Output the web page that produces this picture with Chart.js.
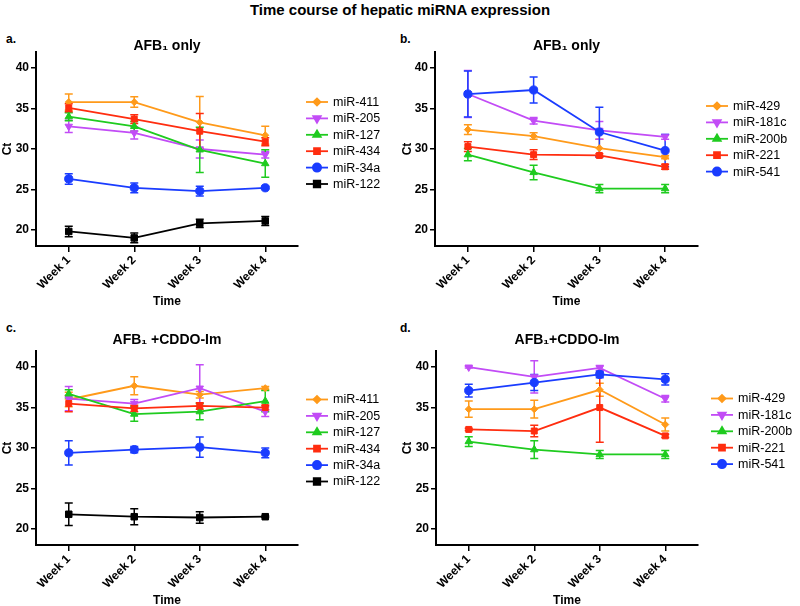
<!DOCTYPE html>
<html>
<head>
<meta charset="utf-8">
<script src="https://cdn.jsdelivr.net/npm/chart.js@4.4.0/dist/chart.umd.min.js"></script>
<style>
  body { margin: 0; width: 800px; height: 606px; overflow: hidden; background: #fff; position: relative;
         font-family: "Liberation Sans", Arial, sans-serif; color: #000; }
  .panel { position: absolute; width: 400px; height: 285px; }
  .lbl { position: absolute; font-weight: bold; font-size: 12px; }
  #mainTitle { position: absolute; left: 0; top: 1px; width: 800px; text-align: center; font-weight: bold; font-size: 15px; }
</style>
</head>
<body>
<div id="mainTitle">Time course of hepatic miRNA expression</div>
<div class="lbl" style="left:6px;top:32px">a.</div>
<div class="lbl" style="left:400px;top:32px">b.</div>
<div class="lbl" style="left:6px;top:321px">c.</div>
<div class="lbl" style="left:400px;top:321px">d.</div>

<div class="panel" style="left:0;top:28px"><canvas id="chartA" width="400" height="285"></canvas></div>
<div class="panel" style="left:400px;top:28px"><canvas id="chartB" width="400" height="285"></canvas></div>
<div class="panel" style="left:0;top:327px"><canvas id="chartC" width="400" height="285"></canvas></div>
<div class="panel" style="left:400px;top:327px"><canvas id="chartD" width="400" height="285"></canvas></div>

<script>
// --- données (Ct moyen et erreur par semaine) ---
const weeks = ['Week 1', 'Week 2', 'Week 3', 'Week 4'];
const yTicks = [20, 25, 30, 35, 40];

// a. AFB1 seul
const a411 = [35.8, 35.8, 33.3, 31.7];  const a411Err = [1.0, 0.65, 3.2, 1.1];
const a205 = [32.8, 32.0, 30.0, 29.3];  const a205Err = [0.75, 0.75, 1.1, 0.4];
const a127 = [34.0, 32.8, 29.9, 28.2];  const a127Err = [0.5, 0.6, 2.8, 1.7];
const a434 = [35.1, 33.7, 32.2, 30.9];  const a434Err = [0.5, 0.55, 2.2, 0.5];
const a34a = [26.3, 25.2, 24.8, 25.2];  const a34aErr = [0.65, 0.6, 0.6, 0.15];
const a122 = [19.8, 19.0, 20.8, 21.1];  const a122Err = [0.65, 0.6, 0.5, 0.55];

// b. AFB1 seul
const b429  = [32.4, 31.6, 30.1, 29.0]; const b429Err  = [0.6, 0.4, 1.1, 0.2];
const b181c = [36.8, 33.5, 32.3, 31.5]; const b181cErr = [2.9, 0.4, 1.1, 0.3];
const b200b = [29.3, 27.1, 25.1, 25.1]; const b200bErr = [0.75, 0.9, 0.5, 0.5];
const b221  = [30.3, 29.3, 29.2, 27.8]; const b221Err  = [0.6, 0.6, 0.2, 0.3];
const b541  = [36.8, 37.3, 32.1, 29.8]; const b541Err  = [2.85, 1.6, 3.05, 2.0];

// c. AFB1 + CDDO-Im
const c411 = [36.0, 37.7, 36.6, 37.4];  const c411Err = [0.9, 1.1, 0.4, 0.2];
const c205 = [36.1, 35.5, 37.4, 34.5];  const c205Err = [1.5, 0.5, 2.9, 0.6];
const c127 = [36.7, 34.2, 34.5, 35.8];  const c127Err = [0.5, 0.9, 1.0, 1.3];
const c434 = [35.5, 34.9, 35.2, 35.0];  const c434Err = [1.0, 0.4, 0.4, 0.3];
const c34a = [29.4, 29.8, 30.1, 29.4];  const c34aErr = [1.5, 0.4, 1.25, 0.6];
const c122 = [21.8, 21.5, 21.4, 21.5];  const c122Err = [1.4, 1.0, 0.7, 0.1];

// d. AFB1 + CDDO-Im
const d429  = [34.8, 34.8, 37.2, 32.9]; const d429Err  = [1.0, 1.1, 0.8, 0.8];
const d181c = [40.0, 38.8, 39.9, 36.1]; const d181cErr = [0.1, 2.0, 0.3, 0.4];
const d200b = [30.8, 29.8, 29.2, 29.2]; const d200bErr = [0.6, 1.1, 0.5, 0.5];
const d221  = [32.3, 32.1, 35.0, 31.5]; const d221Err  = [0.15, 0.7, 4.3, 0.2];
const d541  = [37.1, 38.1, 39.1, 38.5]; const d541Err  = [0.8, 1.0, 0.4, 0.7];

// --- styles ---
const FONT = '"Liberation Sans", Arial, sans-serif';
const ORANGE = '#ff9a1a', PURPLE = '#c24cf6', GREEN = '#1fcb1f', RED = '#ff2d0f', BLUE = '#1a3cff', BLACK = '#000000';
const sOrange = { color: ORANGE, shape: 'rectRot', r: 3.5, rot: 0 };
const sPurple = { color: PURPLE, shape: 'triangle', r: 4.3, rot: 180 };
const sGreen  = { color: GREEN,  shape: 'triangle', r: 4.3, rot: 0 };
const sRed    = { color: RED,    shape: 'rect', r: 4.2, rot: 0 };
const sBlue   = { color: BLUE,   shape: 'circle', r: 4.1, rot: 0 };
const sBlack  = { color: BLACK,  shape: 'rect', r: 4.6, rot: 0 };

function series(label, data, errors, st, idx) {
    return {
        label: label, data: data, errors: errors,
        order: -idx, // la dernière série passe au-dessus, comme sur la figure
        borderColor: st.color, backgroundColor: st.color,
        pointBackgroundColor: st.color, pointBorderColor: st.color,
        pointStyle: st.shape, pointRadius: st.r, pointRotation: st.rot, pointBorderWidth: 1,
        borderWidth: 1.8, tension: 0
    };
}

// barres d'erreur (moyenne ± erreur), dessinées avec l'échelle y du graphique
const errorBars = {
    id: 'errorBars',
    beforeDatasetsDraw(chart) {
        const ctx = chart.ctx, y = chart.scales.y;
        chart.data.datasets.forEach((ds, i) => {
            const meta = chart.getDatasetMeta(i);
            ctx.save();
            ctx.strokeStyle = ds.borderColor;
            ctx.lineWidth = 1.5;
            meta.data.forEach((pt, j) => {
                const e = ds.errors[j];
                if (!e) return;
                const top = y.getPixelForValue(ds.data[j] + e);
                const bot = y.getPixelForValue(ds.data[j] - e);
                ctx.beginPath();
                ctx.moveTo(pt.x, top); ctx.lineTo(pt.x, bot);
                ctx.moveTo(pt.x - 4, top); ctx.lineTo(pt.x + 4, top);
                ctx.moveTo(pt.x - 4, bot); ctx.lineTo(pt.x + 4, bot);
                ctx.stroke();
            });
            ctx.restore();
        });
    }
};

// titre du panneau + légende à droite (ligne + symbole)
const panelDecor = {
    id: 'panelDecor',
    afterDraw(chart, args, opts) {
        const ctx = chart.ctx, area = chart.chartArea;
        ctx.save();
        ctx.fillStyle = '#000';
        ctx.font = 'bold 14px ' + FONT;
        ctx.textAlign = 'center';
        ctx.textBaseline = 'alphabetic';
        ctx.fillText(opts.title, (area.left + area.right) / 2, opts.titleY);

        ctx.font = '12.5px ' + FONT;
        ctx.textAlign = 'left';
        ctx.textBaseline = 'middle';
        chart.data.datasets.forEach((ds, i) => {
            const y = opts.legendY + i * 16.4;
            const x = opts.legendX;
            ctx.strokeStyle = ds.borderColor;
            ctx.lineWidth = 1.8;
            ctx.beginPath();
            ctx.moveTo(x, y); ctx.lineTo(x + 22, y);
            ctx.stroke();
            ctx.fillStyle = ds.borderColor;
            Chart.helpers.drawPoint(ctx, {
                pointStyle: ds.pointStyle, rotation: ds.pointRotation,
                radius: ds.pointRadius, borderWidth: 1
            }, x + 11, y);
            ctx.fillStyle = '#000';
            ctx.fillText(ds.label, x + 27, y + 0.5);
        });
        ctx.restore();
    }
};

function makeChart(id, datasets, deco, yWidth) {
    const axisFont = { family: FONT, size: 12, weight: 'bold' };
    return new Chart(document.getElementById(id), {
        type: 'line',
        data: { labels: weeks, datasets: datasets },
        plugins: [errorBars, panelDecor],
        options: {
            responsive: false,
            animation: false,
            layout: { padding: { top: 24, right: 102, left: 0, bottom: 0 } },
            plugins: {
                legend: { display: false },
                tooltip: { enabled: false },
                panelDecor: deco
            },
            scales: {
                x: {
                    type: 'category',
                    offset: true,
                    afterFit: (s) => { s.height = 67; },
                    border: { display: true, color: '#000', width: 2 },
                    grid: { display: true, drawOnChartArea: false, drawTicks: true, tickLength: 6, color: '#000', lineWidth: 1.5 },
                    ticks: { color: '#000', font: axisFont, minRotation: 45, maxRotation: 45, padding: 1 },
                    title: { display: true, text: 'Time', color: '#000', font: axisFont, padding: { top: 0, bottom: 4 } }
                },
                y: {
                    min: 18, max: 42,
                    afterBuildTicks: (s) => { s.ticks = yTicks.map(v => ({ value: v })); },
                    afterFit: (s) => { s.width = yWidth; },
                    border: { display: true, color: '#000', width: 2 },
                    grid: { display: true, drawOnChartArea: false, drawTicks: true, tickLength: 5, color: '#000', lineWidth: 1.5 },
                    ticks: { color: '#000', font: axisFont, padding: 2 },
                    title: { display: true, text: 'Ct', color: '#000', font: axisFont, padding: 0 }
                }
            }
        }
    });
}

makeChart('chartA', [
    series('miR-411', a411, a411Err, sOrange, 0),
    series('miR-205', a205, a205Err, sPurple, 1),
    series('miR-127', a127, a127Err, sGreen, 2),
    series('miR-434', a434, a434Err, sRed, 3),
    series('miR-34a', a34a, a34aErr, sBlue, 4),
    series('miR-122', a122, a122Err, sBlack, 5)
], { title: 'AFB\u2081 only', titleY: 22, legendX: 306, legendY: 74 }, 36);

makeChart('chartB', [
    series('miR-429', b429, b429Err, sOrange, 0),
    series('miR-181c', b181c, b181cErr, sPurple, 1),
    series('miR-200b', b200b, b200bErr, sGreen, 2),
    series('miR-221', b221, b221Err, sRed, 3),
    series('miR-541', b541, b541Err, sBlue, 4)
], { title: 'AFB\u2081 only', titleY: 22, legendX: 306, legendY: 78 }, 35);

makeChart('chartC', [
    series('miR-411', c411, c411Err, sOrange, 0),
    series('miR-205', c205, c205Err, sPurple, 1),
    series('miR-127', c127, c127Err, sGreen, 2),
    series('miR-434', c434, c434Err, sRed, 3),
    series('miR-34a', c34a, c34aErr, sBlue, 4),
    series('miR-122', c122, c122Err, sBlack, 5)
], { title: 'AFB\u2081 +CDDO-Im', titleY: 17, legendX: 306, legendY: 72.5 }, 36);

makeChart('chartD', [
    series('miR-429', d429, d429Err, sOrange, 0),
    series('miR-181c', d181c, d181cErr, sPurple, 1),
    series('miR-200b', d200b, d200bErr, sGreen, 2),
    series('miR-221', d221, d221Err, sRed, 3),
    series('miR-541', d541, d541Err, sBlue, 4)
], { title: 'AFB\u2081+CDDO-Im', titleY: 17, legendX: 311, legendY: 71.5 }, 36);
</script>
</body>
</html>
